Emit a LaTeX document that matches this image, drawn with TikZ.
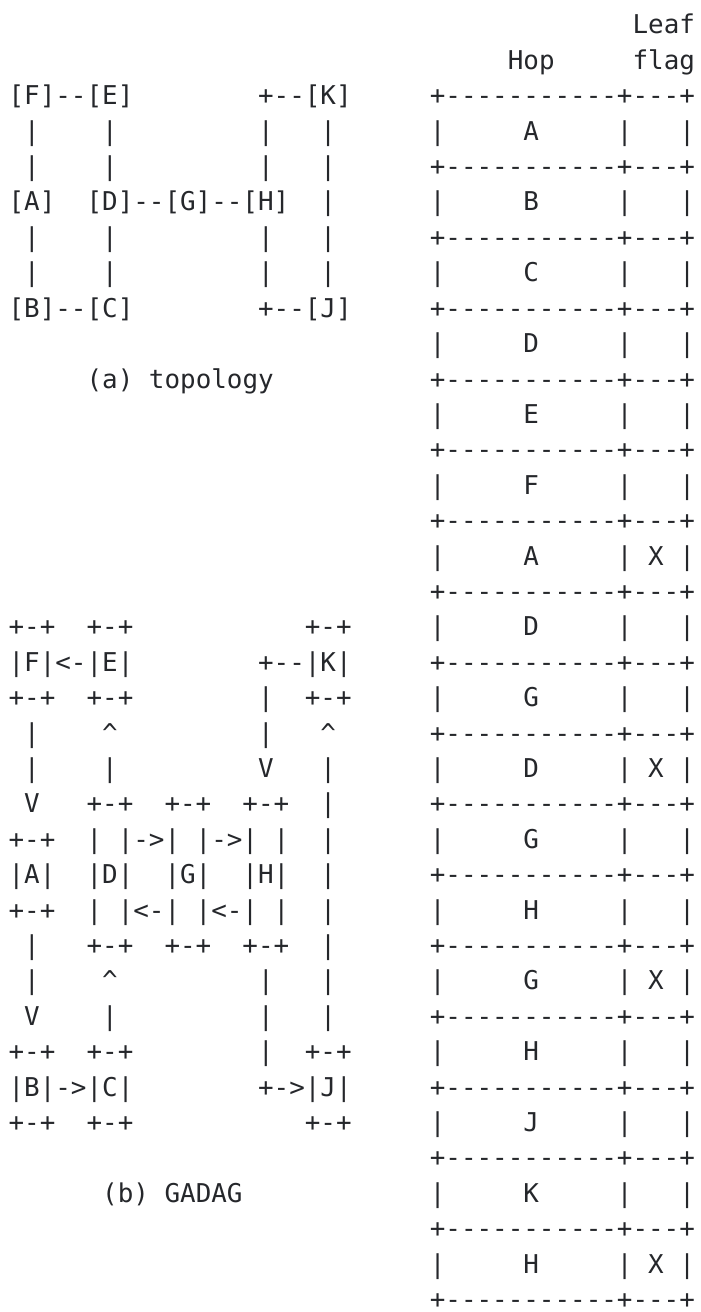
\documentclass[tikz,border=0pt]{standalone}
\usepackage{fontspec}
\setmonofont{DejaVu Sans Mono}
\usepackage{tikz}
\usepackage{xcolor}

\definecolor{ink}{HTML}{25272B}

\tikzset{
  ascii/.style={font=\ttfamily\fontsize{12.95pt}{17.7pt}\selectfont,
    text=ink, anchor=base west, inner sep=0pt},
}

\begin{document}
\begin{tikzpicture}[x=7.8pt, y=-17.7pt]
\useasboundingbox (-0.526,-0.960) rectangle (44.35,36.10);

% ===== (a) topology =====

\node[ascii] (topo2) at (0,2) {[F]--[E]~~~~~~~~+--[K]};
\node[ascii] (topo3) at (0,3) {~|~~~~|~~~~~~~~~|~~~|};
\node[ascii] (topo4) at (0,4) {~|~~~~|~~~~~~~~~|~~~|};
\node[ascii] (topo5) at (0,5) {[A]~~[D]--[G]--[H]~~|};
\node[ascii] (topo6) at (0,6) {~|~~~~|~~~~~~~~~|~~~|};
\node[ascii] (topo7) at (0,7) {~|~~~~|~~~~~~~~~|~~~|};
\node[ascii] (topo8) at (0,8) {[B]--[C]~~~~~~~~+--[J]};

\node[ascii] (capA) at (5,10) {(a) topology};

% ===== (b) GADAG =====

\node[ascii] (gadag17) at (0,17) {+-+~~+-+~~~~~~~~~~~+-+};
\node[ascii] (gadag18) at (0,18) {|F|<-|E|~~~~~~~~+--|K|};
\node[ascii] (gadag19) at (0,19) {+-+~~+-+~~~~~~~~|~~+-+};
\node[ascii] (gadag20) at (0,20) {~|~~~~\textasciicircum~~~~~~~~~|~~~\textasciicircum};
\node[ascii] (gadag21) at (0,21) {~|~~~~|~~~~~~~~~V~~~|};
\node[ascii] (gadag22) at (0,22) {~V~~~+-+~~+-+~~+-+~~|};
\node[ascii] (gadag23) at (0,23) {+-+~~|~|->|~|->|~|~~|};
\node[ascii] (gadag24) at (0,24) {|A|~~|D|~~|G|~~|H|~~|};
\node[ascii] (gadag25) at (0,25) {+-+~~|~|<-|~|<-|~|~~|};
\node[ascii] (gadag26) at (0,26) {~|~~~+-+~~+-+~~+-+~~|};
\node[ascii] (gadag27) at (0,27) {~|~~~~\textasciicircum~~~~~~~~~|~~~|};
\node[ascii] (gadag28) at (0,28) {~V~~~~|~~~~~~~~~|~~~|};
\node[ascii] (gadag29) at (0,29) {+-+~~+-+~~~~~~~~|~~+-+};
\node[ascii] (gadag30) at (0,30) {|B|->|C|~~~~~~~~+->|J|};
\node[ascii] (gadag31) at (0,31) {+-+~~+-+~~~~~~~~~~~+-+};

\node[ascii] (capB) at (6,33) {(b) GADAG};

% ===== Hop table =====

\node[ascii] (leaf) at (40,0) {Leaf};
\node[ascii] (hop) at (32,1) {Hop};
\node[ascii] (flag) at (40,1) {flag};

\foreach \i in {0,...,17}
  \node[ascii] (rule\i) at (27,2+2*\i) {+-----------+---+};

\foreach \hopname/\leafmark [count=\i] in {A/~,B/~,C/~,D/~,E/~,F/~,A/X,D/~,G/~,D/X,G/~,H/~,G/X,H/~,J/~,K/~,H/X}
  \node[ascii] (entry\i) at (27,1+2*\i) {|~~~~~\hopname~~~~~|~\leafmark~|};

\end{tikzpicture}
\end{document}
